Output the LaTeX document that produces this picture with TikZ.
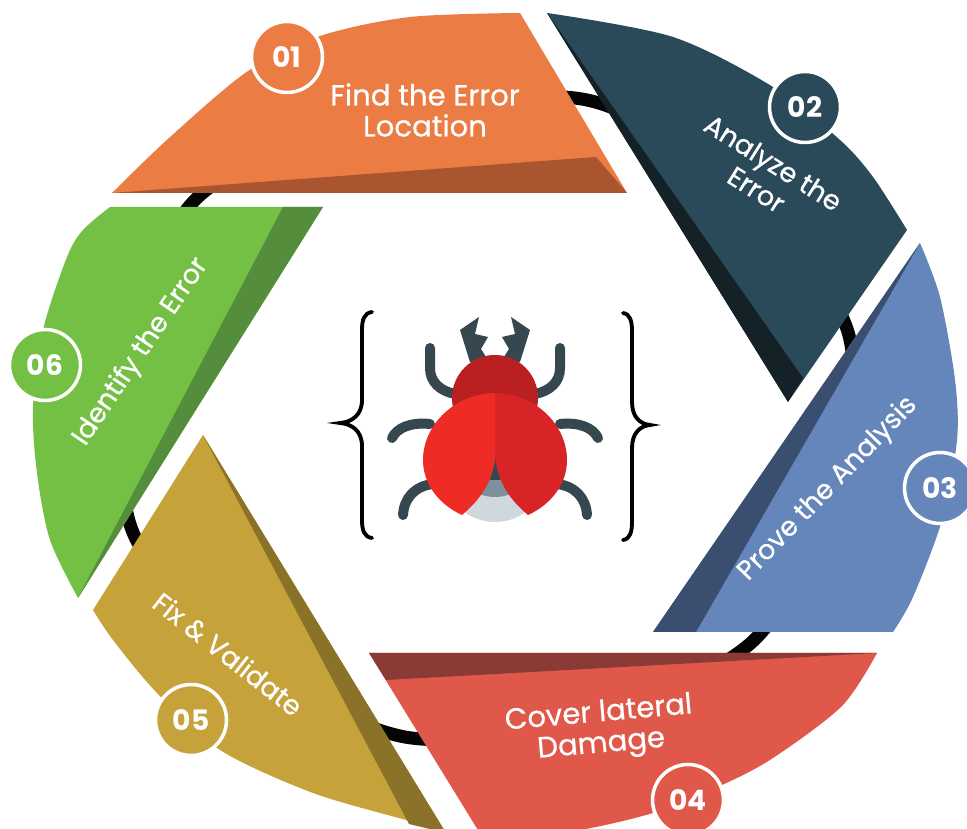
\documentclass[tikz,border=0pt]{standalone}
\usepackage{fontspec}
\setmainfont{Poppins}
\newfontfamily\bladefont{Poppins}[FakeBold=0.6]

\definecolor{BladeOne}{HTML}{EB7C43}
\definecolor{BladeOneShade}{HTML}{A9552F}
\definecolor{BladeTwo}{HTML}{2B4A59}
\definecolor{BladeTwoShade}{HTML}{142127}
\definecolor{BladeThree}{HTML}{6486BB}
\definecolor{BladeThreeShade}{HTML}{3A4F6F}
\definecolor{BladeFour}{HTML}{E0584A}
\definecolor{BladeFourShade}{HTML}{8A3B36}
\definecolor{BladeFive}{HTML}{C6A33A}
\definecolor{BladeFiveShade}{HTML}{8B7229}
\definecolor{BladeSix}{HTML}{73C045}
\definecolor{BladeSixShade}{HTML}{548E3C}
\definecolor{RingBlack}{HTML}{050505}
\definecolor{BugLeg}{HTML}{37474F}
\definecolor{BugHead}{HTML}{BA1F22}
\definecolor{BugWingLeft}{HTML}{EE2C25}
\definecolor{BugWingRight}{HTML}{D92427}
\definecolor{BugBellyMid}{HTML}{7D919C}
\definecolor{BugBellyLight}{HTML}{CFD8DC}

\tikzset{
  bladeno/.style={circle, draw=white, line width=1pt, minimum size=7.1mm,
    inner sep=0pt, text=white, font=\fontsize{8}{9}\selectfont\bfseries},
  bladetext/.style={text=white, align=center,
    font=\bladefont\fontsize{7.7}{9}\selectfont},
  bigtext/.style={bladetext, font=\bladefont\fontsize{8.3}{8.8}\selectfont},
  bugleg/.style={draw=BugLeg, line width=1mm, line cap=round},
  brace/.style={draw=black, line width=1.1pt, line cap=round},
}

\begin{document}
\begin{tikzpicture}[x=0.1mm, y=-0.1mm]

\useasboundingbox (0,0) rectangle (967,829);
\fill [white] (0,0) rectangle (967,829);

%% Anillo negro detras de las hojas
\draw [RingBlack, line width=1.3mm] plot [smooth cycle] coordinates
      {(587,100) (848,332) (752,642) (405,737) (132,530) (198,197)};

%% Hojas del obturador

% Hoja 1
\coordinate (A1) at (112,193);
\coordinate (B1) at (520,13);
\coordinate (C1) at (627,193);
\coordinate (S1) at (596,157);
\fill [BladeOne] plot [smooth] coordinates
      {(A1) (169,138) (248,71) (320,36) (410,17) (B1)} -- (C1) -- cycle;
\fill [BladeOneShade] (A1) -- (S1) -- (C1) -- cycle;

% Hoja 2
\coordinate (A2) at (547,13);
\coordinate (B2) at (907,230);
\coordinate (C2) at (788,402);
\coordinate (S2) at (803,378);
\fill [BladeTwo] plot [smooth] coordinates
      {(A2) (673,37) (773,87) (840,140) (873,177) (B2)} -- (C2) -- cycle;
\fill [BladeTwoShade] (A2) -- (S2) -- (C2) -- cycle;

% Hoja 3
\coordinate (A3) at (920,243);
\coordinate (B3) at (893,632);
\coordinate (C3) at (653,632);
\coordinate (S3) at (696,632);
\fill [BladeThree] plot [smooth] coordinates
      {(A3) (940,297) (955,380) (957,440) (942,520) (913,597) (B3)} -- (C3) -- cycle;
\fill [BladeThreeShade] (A3) -- (S3) -- (C3) -- cycle;

% Hoja 4
\coordinate (A4) at (877,653);
\coordinate (B4) at (481,835);
\coordinate (C4) at (369,653);
\coordinate (S4) at (386,680);
\fill [BladeFour] plot [smooth] coordinates
      {(A4) (842,706) (773,758) (722,785) (653,813) (567,832) (B4)} -- (C4) -- cycle;
\fill [BladeFourShade] (A4) -- (C4) -- (S4) -- cycle;

% Hoja 5
\coordinate (A5) at (93,610);
\coordinate (B5) at (446,833);
\coordinate (C5) at (203,435);
\coordinate (S5) at (409,824);
\fill [BladeFive] plot [smooth] coordinates
      {(A5) (113,640) (157,693) (220,750) (313,793) (413,822) (B5)} -- (C5) -- cycle;
\fill [BladeFiveShade] (C5) -- (B5) -- (S5) -- cycle;

% Hoja 6
\coordinate (A6) at (78,598);
\coordinate (B6) at (110,207);
\coordinate (C6) at (323,207);
\coordinate (S6) at (283,207);
\fill [BladeSix] plot [smooth] coordinates
      {(A6) (50,540) (37,473) (33,407) (43,330) (67,257) (83,230) (B6)} -- (C6) -- cycle;
\fill [BladeSixShade] (C6) -- (S6) -- (A6) -- cycle;

%% Numeros y textos
\node [bladeno, fill=BladeOne]   (n01) at (287,57)  {01};
\node [bladeno, fill=BladeTwo]   (n02) at (805,107) {02};
\node [bladeno, fill=BladeThree] (n03) at (940,488) {03};
\node [bladeno, fill=BladeFour]  (n04) at (688,800) {04};
\node [bladeno, fill=BladeFive]  (n05) at (191,720) {05};
\node [bladeno, fill=BladeSix]   (n06) at (45,365)  {06};

\node [bigtext]               (t01) at (425,110) {Find the Error\\Location};
\node [bladetext, rotate=-32] (t02) at (765,176) {Analyze the\\Error};
\node [bladetext, rotate=46]  (t03) at (828,489) {Prove the Analysis};
\node [bigtext, rotate=5]     (t04) at (600,730) {Cover lateral\\Damage};
\node [bladetext, rotate=-38] (t05) at (228,654) {Fix \& Validate};
\node [bladetext, rotate=56]  (t06) at (141,352) {Identify the Error};

%% El bicho del centro

% Patas
\draw [bugleg] (430,348) -- (430,368) .. controls (430,382) and (440,391) .. (455,394);
\draw [bugleg] (560,348) -- (560,368) .. controls (560,382) and (550,391) .. (535,394);
\draw [bugleg] (430,424) .. controls (410,422) and (397,428) .. (392,438);
\draw [bugleg] (560,424) .. controls (580,422) and (593,428) .. (598,438);
\draw [bugleg] (433,484) .. controls (415,486) and (404,498) .. (403,515);
\draw [bugleg] (557,484) .. controls (575,486) and (586,498) .. (587,515);

% Pinzas
\fill [BugLeg] (460,330) -- (479,317) -- (475,334) -- (488,337) -- (481,349)
      -- (488,360) -- (470,362) -- cycle;
\fill [BugLeg] (530,330) -- (511,317) -- (515,334) -- (502,337) -- (509,349)
      -- (502,360) -- (520,362) -- cycle;

% Cabeza
\fill [BugHead] (495,398) circle (43);

% Abdomen
\fill [BugBellyLight] (495,470) circle (52);
\fill [BugBellyMid] (495,455) circle (42);
\fill [BugLeg] (495,440) circle (40);

% Alas
\fill [BugWingLeft] (496,393) .. controls (455,393) and (423,425) .. (423,460)
      .. controls (423,485) and (440,505) .. (462,515)
      .. controls (480,500) and (495,480) .. (496,450) -- cycle;
\fill [BugWingRight] (495,393) .. controls (535,393) and (567,425) .. (567,460)
      .. controls (567,485) and (550,505) .. (528,515)
      .. controls (510,500) and (495,480) .. (495,450) -- cycle;

% Llaves
\draw [brace] (372,312) .. controls (364,313) and (362,320) .. (362,330) -- (362,400)
      .. controls (362,415) and (352,422) .. (340,423)
      .. controls (352,424) and (362,431) .. (362,446) -- (362,520)
      .. controls (362,530) and (364,537) .. (372,538);
\draw [brace] (623,313) .. controls (630,314) and (632,321) .. (632,331) -- (632,402)
      .. controls (632,417) and (640,424) .. (650,425)
      .. controls (640,426) and (632,433) .. (632,448) -- (632,522)
      .. controls (632,532) and (630,539) .. (623,540);

\end{tikzpicture}
\end{document}
